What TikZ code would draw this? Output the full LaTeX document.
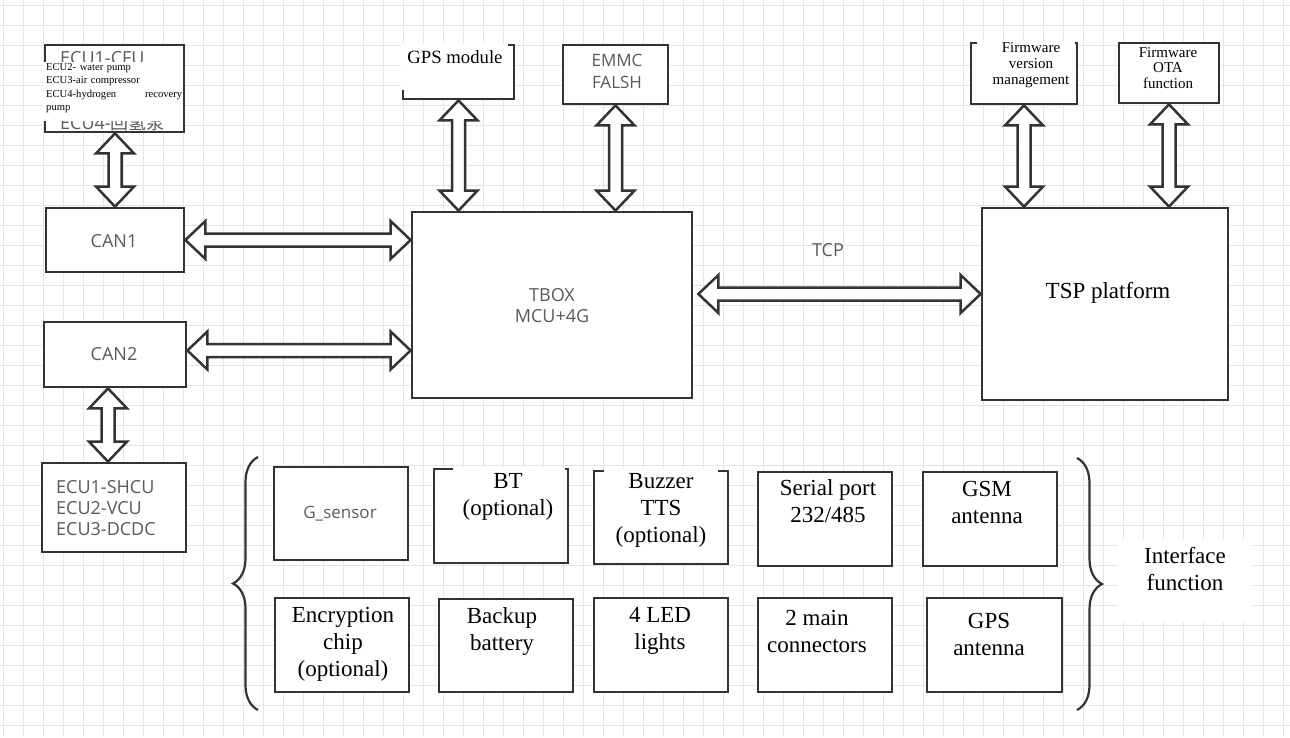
\documentclass[tikz,border=0pt]{standalone}
\usepackage{fontspec}
\setmainfont{Liberation Serif}
\newfontfamily\uifont{Open Sans}
\newfontfamily\cjkfont{Noto Sans CJK SC}
\usepackage{tikz}
\usetikzlibrary{calc,fit,decorations.pathreplacing}
\definecolor{boxline}{RGB}{51,51,51}
\definecolor{uigray}{RGB}{90,90,90}
\definecolor{gridgray}{RGB}{229,229,229}

\tikzset{
  blk/.style={draw=boxline, line width=2.8pt, fill=white, inner sep=0pt},
  twoway/.style={draw=boxline, line width=2.5pt, fill=white, line join=miter},
  serif/.style={font=\fontsize{23}{27}\selectfont, align=center, inner sep=0pt},
  ui/.style={font=\uifont\fontsize{18}{21}\selectfont, text=uigray, align=center, inner sep=0pt},
  curly/.style={draw=boxline, line width=2.2pt, decorate, decoration={brace, amplitude=25pt}},
}

% hollow two-headed arrow between two points
\newcommand{\twoway}[2]{%
  \path let \p1=(#1), \p2=(#2) in
    \pgfextra{%
      \pgfmathsetmacro\twA{atan2((\y2)-(\y1),(\x2)-(\x1))}%
      \pgfmathsetmacro\twL{veclen((\x2)-(\x1),(\y2)-(\y1))}%
      \xdef\twA{\twA}\xdef\twL{\twL}%
      \xdef\twX{\x1}\xdef\twY{\y1}};
  \begin{scope}[shift={(\twX,\twY)}, rotate=\twA, x=1pt, y=1pt]
    \draw[twoway] (0,0) -- (20,19) -- (20,6.5) -- (\twL-20,6.5) -- (\twL-20,19)
      -- (\twL,0) -- (\twL-20,-19) -- (\twL-20,-6.5) -- (20,-6.5) -- (20,-19) -- cycle;
  \end{scope}}

\begin{document}
\begin{tikzpicture}[x=1pt, y=-1pt]
\useasboundingbox (0,0) rectangle (1290,737);
\fill[white] (0,0) rectangle (1290,737);
\foreach \gx in {3,23,...,1283} \draw[gridgray, line width=1pt] (\gx,0) -- (\gx,737);
\foreach \gy in {5,25,...,725} \draw[gridgray, line width=1pt] (0,\gy) -- (1290,\gy);

% top row
\node[blk, fit={(45,45) (184,132)}] (ecuA) {};
\node[ui, anchor=base west] (ecuAtop) at (60,64) {ECU1-CFU};
\node[ui, anchor=base west] (ecuAbot) at (60,129) {ECU4-{\cjkfont 回氢泵}};
\fill[white] (43,62) rectangle (182.5,121);
\node[anchor=north west, inner sep=0pt, text width=136pt, align=left,
      font=\fontsize{10.6}{13.2}\selectfont] (ecuAtxt) at (46,63.5)
  {ECU2- water pump\\ECU3-air compressor\\ECU4-hydrogen\hfill recovery\\pump};

\node[blk, fit={(403,45) (514,99)}] (gps) {};
\fill[white] (401,43) rectangle (508,90);
\node[serif, font=\fontsize{18.7}{22}\selectfont] (gpsT) at (455,57) {GPS module};

\node[blk, fit={(563,45) (668,104)}] (emmc) {};
\node[ui, font=\uifont\fontsize{17}{22}\selectfont] (emmcT) at (617,71) {EMMC\\FALSH};

\node[blk, fit={(971,43) (1077,104)}] (fwv) {};
\fill[white] (977,41) rectangle (1075,90);
\node[serif, font=\fontsize{15}{16.2}\selectfont] (fwvT) at (1031,65) {Firmware\\version\\management};

\node[blk, fit={(1119,43) (1219,103)}] (ota) {};
\node[serif, font=\fontsize{15}{15.5}\selectfont] (otaT) at (1168,68) {Firmware\\OTA\\function};

% middle row
\node[blk, fit={(46,208) (184,272)}] (can1) {};
\node[ui] (can1T) at (114,241) {CAN1};
\node[blk, fit={(44,322) (186,387)}] (can2) {};
\node[ui] (can2T) at (114,354) {CAN2};

\node[blk, fit={(412,212) (692,398)}] (tbox) {};
\node[ui] (tboxT) at (552,306) {TBOX\\MCU+4G};

\node[blk, fit={(982,208) (1228,400)}] (tsp) {};
\node[serif] (tspT) at (1108,293) {TSP platform};

\node[ui] (tcp) at (828,250) {TCP};

\node[blk, fit={(42,463) (186,552)}] (ecuB) {};
\node[ui, align=left, anchor=west] (ecuBT) at (56,508) {ECU1-SHCU\\ECU2-VCU\\ECU3-DCDC};

% interface blocks
\node[blk, fit={(274,467) (408,560)}] (gsen) {};
\node[ui, font=\uifont\fontsize{17}{21}\selectfont] (gsenT) at (340,514) {G\_sensor};
\node[blk, fit={(434,469) (568,563)}] (bt) {};
\fill[white] (453,467) rectangle (565,525);
\node[serif] (btT) at (508,497) {BT\\(optional)};
\node[blk, fit={(594,471) (728,564)}] (buz) {};
\fill[white] (604,469) rectangle (718,548);
\node[serif] (buzT) at (661,510) {Buzzer\\TTS\\(optional)};
\node[blk, fit={(758,472) (892,566)}] (ser) {};
\node[serif] (serT) at (828,501) {Serial port\\232/485};
\node[blk, fit={(923,472) (1057,566)}] (gsm) {};
\node[serif] (gsmT) at (987,502) {GSM\\antenna};

\node[blk, fit={(275,598) (409,692)}] (enc) {};
\node[serif] (encT) at (343,644) {Encryption\\chip\\(optional)};
\node[blk, fit={(439,599) (573,692)}] (bak) {};
\node[serif] (bakT) at (502,631) {Backup\\battery};
\node[blk, fit={(594,598) (728,692)}] (led) {};
\node[serif] (ledT) at (660,631) {4 LED\\lights};
\node[blk, fit={(758,598) (892,692)}] (conn) {};
\node[serif] (connT) at (817,631) {2 main\\connectors};
\node[blk, fit={(927,598) (1062,692)}] (gpsant) {};
\node[serif] (gpsantT) at (989,634) {GPS\\antenna};

\draw[curly] (258,710) -- (258,457);
\draw[curly] (1077,458) -- (1077,710);
\fill[white] (1118,540) rectangle (1252,622);
\node[serif] (iface) at (1185,569) {Interface\\function};

% arrows
\twoway{can1.north |- ecuA.south}{can1.north}
\coordinate (c2s) at ([xshift=-7pt]can2.south);
\twoway{c2s}{c2s |- ecuB.north}
\twoway{gps.south}{gps.south |- tbox.north}
\twoway{emmc.south}{emmc.south |- tbox.north}
\twoway{fwv.south}{fwv.south |- tsp.north}
\twoway{ota.south}{ota.south |- tsp.north}
\twoway{can1.east}{can1.east -| tbox.west}
\coordinate (c2e) at ([yshift=4pt]can2.east);
\twoway{c2e}{c2e -| tbox.west}
\coordinate (tcpL) at ([xshift=5pt, yshift=11pt]tbox.east);
\twoway{tcpL}{tcpL -| tsp.west}
\end{tikzpicture}
\end{document}
